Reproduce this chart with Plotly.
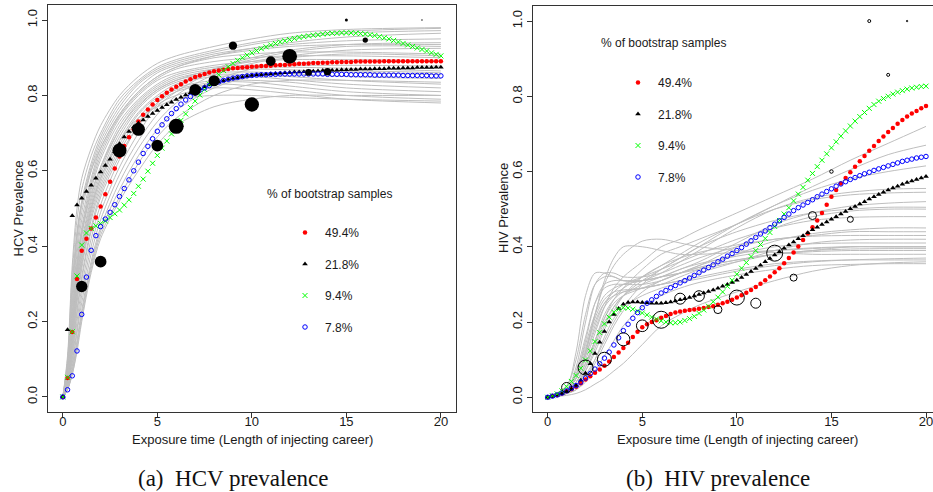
import numpy as np
import plotly.graph_objects as go

# ---------------------------------------------------------------
# Data
# ---------------------------------------------------------------
# Grid (years of injecting) on which the fitted prevalence curves are evaluated
career_years = np.arange(0, 20.001, 0.25)

legend_labels = ["49.4%", "21.8%", "9.4%", "7.8%"]

# HCV: fitted curves, grouped by share of bootstrap samples
hcv_fit_494 = [
    0.000, 0.050, 0.172, 0.313, 0.388, 0.420, 0.447, 0.476, 0.505, 0.538,
    0.571, 0.606, 0.638, 0.666, 0.689, 0.710, 0.731, 0.749, 0.763, 0.776,
    0.788, 0.798, 0.807, 0.816, 0.823, 0.830, 0.837, 0.843, 0.849, 0.853,
    0.857, 0.861, 0.864, 0.866, 0.868, 0.870, 0.872, 0.873, 0.874, 0.875,
    0.876, 0.877, 0.878, 0.878, 0.879, 0.880, 0.881, 0.881, 0.882, 0.883,
    0.884, 0.884, 0.885, 0.886, 0.886, 0.887, 0.887, 0.888, 0.888, 0.889,
    0.889, 0.889, 0.890, 0.890, 0.890, 0.890, 0.890, 0.890, 0.891, 0.891,
    0.891, 0.891, 0.891, 0.891, 0.891, 0.891, 0.891, 0.891, 0.891, 0.891,
    0.891,
]
hcv_fit_218 = [
    0.000, 0.178, 0.481, 0.509, 0.527, 0.545, 0.562, 0.580, 0.597, 0.614,
    0.631, 0.651, 0.672, 0.690, 0.704, 0.716, 0.726, 0.735, 0.744, 0.752,
    0.760, 0.768, 0.775, 0.782, 0.789, 0.795, 0.801, 0.807, 0.813, 0.818,
    0.823, 0.828, 0.832, 0.836, 0.839, 0.842, 0.845, 0.847, 0.849, 0.851,
    0.853, 0.854, 0.855, 0.856, 0.857, 0.858, 0.859, 0.860, 0.861, 0.862,
    0.862, 0.863, 0.864, 0.864, 0.865, 0.866, 0.866, 0.867, 0.867, 0.868,
    0.868, 0.869, 0.869, 0.870, 0.870, 0.870, 0.871, 0.871, 0.871, 0.872,
    0.872, 0.872, 0.873, 0.873, 0.873, 0.874, 0.874, 0.874, 0.874, 0.875,
    0.875,
]
hcv_fit_94 = [
    0.000, 0.052, 0.173, 0.321, 0.403, 0.435, 0.447, 0.454, 0.460, 0.467,
    0.476, 0.486, 0.496, 0.509, 0.523, 0.540, 0.559, 0.578, 0.599, 0.620,
    0.641, 0.660, 0.679, 0.698, 0.716, 0.734, 0.751, 0.768, 0.785, 0.801,
    0.816, 0.830, 0.843, 0.855, 0.866, 0.876, 0.885, 0.893, 0.900, 0.907,
    0.913, 0.919, 0.924, 0.929, 0.934, 0.938, 0.942, 0.945, 0.948, 0.951,
    0.954, 0.956, 0.958, 0.960, 0.961, 0.963, 0.964, 0.965, 0.965, 0.966,
    0.966, 0.966, 0.965, 0.964, 0.963, 0.961, 0.959, 0.956, 0.953, 0.950,
    0.946, 0.942, 0.938, 0.934, 0.930, 0.926, 0.922, 0.918, 0.913, 0.909,
    0.905,
]
hcv_fit_78 = [
    0.000, 0.019, 0.056, 0.122, 0.219, 0.318, 0.389, 0.428, 0.452, 0.472,
    0.490, 0.510, 0.532, 0.553, 0.576, 0.600, 0.623, 0.646, 0.665, 0.685,
    0.705, 0.722, 0.738, 0.752, 0.765, 0.777, 0.788, 0.797, 0.806, 0.814,
    0.820, 0.826, 0.832, 0.836, 0.840, 0.843, 0.846, 0.848, 0.850, 0.852,
    0.853, 0.854, 0.855, 0.855, 0.856, 0.856, 0.857, 0.857, 0.857, 0.857,
    0.857, 0.857, 0.857, 0.857, 0.857, 0.857, 0.856, 0.856, 0.856, 0.856,
    0.856, 0.855, 0.855, 0.855, 0.855, 0.855, 0.854, 0.854, 0.854, 0.854,
    0.854, 0.854, 0.853, 0.853, 0.853, 0.853, 0.853, 0.853, 0.852, 0.852,
    0.852,
]

# HCV: observed prevalence by length of injecting career, with sample sizes
hcv_obs_years = [1, 2, 3, 4, 5, 6, 7, 8, 9, 10, 11, 12, 13, 14, 15, 16, 19]
hcv_obs_prev = [0.293, 0.359, 0.654, 0.710, 0.667, 0.718, 0.815, 0.839, 0.932,
                0.776, 0.891, 0.904, 0.861, 0.863, 1.000, 0.947, 1.000]
hcv_obs_n = [128, 137, 196, 169, 137, 225, 137, 121, 69, 204, 94, 216, 45, 53,
             9, 28, 2]

# HCV: bootstrap fits, tabulated at these career lengths
hcv_boot_years = [0, 0.25, 0.5, 0.75, 1, 1.5, 2, 3, 4, 5, 6, 8, 10, 12, 15, 20]
hcv_boot = [
    [0, 0.10, 0.33, 0.47, 0.55, 0.64, 0.70, 0.79, 0.84, 0.875, 0.895, 0.92, 0.94, 0.955, 0.970, 0.978],
    [0, 0.09, 0.30, 0.44, 0.52, 0.62, 0.69, 0.78, 0.835, 0.87, 0.89, 0.915, 0.935, 0.95, 0.965, 0.972],
    [0, 0.08, 0.27, 0.42, 0.51, 0.61, 0.68, 0.77, 0.83, 0.865, 0.885, 0.91, 0.925, 0.935, 0.945, 0.950],
    [0, 0.08, 0.25, 0.40, 0.49, 0.60, 0.67, 0.76, 0.82, 0.86, 0.88, 0.905, 0.92, 0.93, 0.935, 0.935],
    [0, 0.07, 0.24, 0.38, 0.47, 0.58, 0.66, 0.75, 0.81, 0.85, 0.875, 0.90, 0.91, 0.915, 0.915, 0.910],
    [0, 0.07, 0.22, 0.36, 0.45, 0.57, 0.65, 0.745, 0.805, 0.845, 0.87, 0.89, 0.90, 0.905, 0.905, 0.900],
    [0, 0.06, 0.21, 0.35, 0.44, 0.56, 0.64, 0.74, 0.80, 0.84, 0.86, 0.88, 0.89, 0.895, 0.895, 0.892],
    [0, 0.06, 0.20, 0.33, 0.43, 0.55, 0.63, 0.73, 0.79, 0.83, 0.855, 0.875, 0.88, 0.88, 0.88, 0.878],
    [0, 0.05, 0.19, 0.32, 0.41, 0.53, 0.61, 0.72, 0.785, 0.825, 0.85, 0.87, 0.875, 0.875, 0.872, 0.865],
    [0, 0.05, 0.18, 0.31, 0.40, 0.52, 0.60, 0.71, 0.78, 0.82, 0.845, 0.865, 0.87, 0.868, 0.862, 0.855],
    [0, 0.05, 0.17, 0.30, 0.39, 0.51, 0.59, 0.70, 0.77, 0.815, 0.84, 0.86, 0.862, 0.858, 0.85, 0.845],
    [0, 0.04, 0.16, 0.28, 0.37, 0.50, 0.58, 0.69, 0.765, 0.81, 0.835, 0.855, 0.855, 0.85, 0.84, 0.830],
    [0, 0.04, 0.15, 0.27, 0.36, 0.49, 0.57, 0.68, 0.755, 0.80, 0.83, 0.85, 0.85, 0.842, 0.83, 0.820],
    [0, 0.04, 0.14, 0.26, 0.35, 0.48, 0.56, 0.67, 0.75, 0.795, 0.82, 0.84, 0.84, 0.835, 0.82, 0.810],
    [0, 0.03, 0.13, 0.25, 0.34, 0.47, 0.55, 0.66, 0.74, 0.79, 0.815, 0.835, 0.835, 0.825, 0.81, 0.800],
    [0, 0.03, 0.12, 0.23, 0.32, 0.45, 0.54, 0.65, 0.73, 0.78, 0.81, 0.83, 0.825, 0.815, 0.80, 0.790],
    [0, 0.03, 0.11, 0.22, 0.31, 0.44, 0.53, 0.64, 0.72, 0.775, 0.80, 0.82, 0.815, 0.805, 0.79, 0.780],
    [0, 0.03, 0.10, 0.20, 0.29, 0.42, 0.51, 0.63, 0.72, 0.78, 0.82, 0.87, 0.90, 0.92, 0.935, 0.940],
    [0, 0.02, 0.09, 0.18, 0.27, 0.40, 0.49, 0.61, 0.70, 0.77, 0.81, 0.865, 0.895, 0.915, 0.93, 0.930],
    [0, 0.02, 0.08, 0.17, 0.25, 0.38, 0.47, 0.59, 0.68, 0.75, 0.80, 0.855, 0.885, 0.90, 0.91, 0.905],
    [0, 0.02, 0.07, 0.15, 0.23, 0.36, 0.45, 0.57, 0.66, 0.73, 0.78, 0.84, 0.87, 0.885, 0.89, 0.890],
    [0, 0.02, 0.07, 0.14, 0.22, 0.35, 0.44, 0.55, 0.64, 0.71, 0.76, 0.82, 0.85, 0.86, 0.865, 0.860],
    [0, 0.02, 0.06, 0.13, 0.21, 0.34, 0.43, 0.53, 0.62, 0.69, 0.74, 0.80, 0.83, 0.84, 0.84, 0.835],
    [0, 0.02, 0.06, 0.12, 0.20, 0.33, 0.42, 0.52, 0.60, 0.67, 0.72, 0.77, 0.79, 0.80, 0.80, 0.800],
    [0, 0.05, 0.17, 0.29, 0.38, 0.50, 0.58, 0.68, 0.74, 0.77, 0.79, 0.80, 0.80, 0.795, 0.79, 0.785],
    [0, 0.11, 0.35, 0.50, 0.58, 0.66, 0.72, 0.80, 0.85, 0.885, 0.905, 0.93, 0.95, 0.965, 0.975, 0.980],
    [0, 0.09, 0.29, 0.43, 0.51, 0.60, 0.66, 0.75, 0.81, 0.85, 0.875, 0.905, 0.925, 0.94, 0.955, 0.965],
    [0, 0.06, 0.21, 0.34, 0.43, 0.54, 0.61, 0.71, 0.775, 0.815, 0.84, 0.87, 0.89, 0.905, 0.92, 0.925],
]

# HIV: fitted curves, grouped by share of bootstrap samples
hiv_fit_494 = [
    0.000, 0.003, 0.006, 0.010, 0.016, 0.021, 0.028, 0.037, 0.047, 0.056,
    0.065, 0.074, 0.084, 0.095, 0.107, 0.119, 0.131, 0.145, 0.160, 0.174,
    0.186, 0.194, 0.200, 0.205, 0.211, 0.216, 0.221, 0.225, 0.228, 0.230,
    0.232, 0.233, 0.235, 0.237, 0.240, 0.242, 0.246, 0.250, 0.254, 0.259,
    0.265, 0.271, 0.278, 0.285, 0.293, 0.302, 0.311, 0.321, 0.332, 0.343,
    0.356, 0.370, 0.385, 0.401, 0.418, 0.435, 0.452, 0.470, 0.490, 0.512,
    0.533, 0.551, 0.568, 0.583, 0.598, 0.613, 0.627, 0.641, 0.655, 0.668,
    0.681, 0.693, 0.705, 0.716, 0.727, 0.737, 0.746, 0.754, 0.761, 0.768,
    0.774,
]
hiv_fit_218 = [
    0.000, 0.002, 0.005, 0.009, 0.015, 0.022, 0.031, 0.045, 0.064, 0.089,
    0.116, 0.146, 0.175, 0.200, 0.220, 0.236, 0.247, 0.252, 0.253, 0.253,
    0.252, 0.251, 0.250, 0.250, 0.250, 0.251, 0.253, 0.256, 0.259, 0.262,
    0.265, 0.269, 0.273, 0.277, 0.281, 0.285, 0.290, 0.295, 0.300, 0.305,
    0.311, 0.318, 0.326, 0.334, 0.342, 0.351, 0.360, 0.369, 0.378, 0.387,
    0.396, 0.405, 0.413, 0.421, 0.429, 0.437, 0.445, 0.452, 0.459, 0.466,
    0.473, 0.480, 0.487, 0.494, 0.501, 0.507, 0.514, 0.520, 0.527, 0.533,
    0.539, 0.545, 0.551, 0.556, 0.561, 0.566, 0.571, 0.575, 0.579, 0.583,
    0.587,
]
hiv_fit_94 = [
    0.000, 0.004, 0.009, 0.017, 0.028, 0.042, 0.058, 0.077, 0.099, 0.123,
    0.148, 0.172, 0.195, 0.213, 0.226, 0.234, 0.238, 0.237, 0.234, 0.229,
    0.224, 0.219, 0.213, 0.208, 0.203, 0.200, 0.198, 0.198, 0.200, 0.204,
    0.209, 0.215, 0.223, 0.232, 0.242, 0.254, 0.266, 0.280, 0.295, 0.311,
    0.327, 0.343, 0.358, 0.374, 0.390, 0.406, 0.422, 0.438, 0.454, 0.470,
    0.487, 0.504, 0.522, 0.540, 0.558, 0.577, 0.595, 0.613, 0.630, 0.647,
    0.663, 0.679, 0.694, 0.708, 0.721, 0.734, 0.746, 0.757, 0.768, 0.778,
    0.787, 0.794, 0.800, 0.806, 0.811, 0.815, 0.819, 0.822, 0.824, 0.826,
    0.827,
]
hiv_fit_78 = [
    0.000, 0.003, 0.006, 0.011, 0.017, 0.024, 0.031, 0.040, 0.051, 0.063,
    0.075, 0.089, 0.104, 0.120, 0.139, 0.158, 0.177, 0.194, 0.210, 0.225,
    0.238, 0.250, 0.259, 0.268, 0.277, 0.284, 0.291, 0.297, 0.304, 0.310,
    0.317, 0.324, 0.331, 0.338, 0.345, 0.352, 0.360, 0.367, 0.375, 0.382,
    0.390, 0.398, 0.407, 0.416, 0.425, 0.434, 0.442, 0.451, 0.460, 0.469,
    0.478, 0.487, 0.496, 0.504, 0.511, 0.518, 0.525, 0.533, 0.540, 0.547,
    0.554, 0.561, 0.567, 0.573, 0.579, 0.584, 0.589, 0.594, 0.598, 0.603,
    0.607, 0.611, 0.615, 0.619, 0.623, 0.627, 0.630, 0.633, 0.636, 0.638,
    0.640,
]

# HIV: observed prevalence by length of injecting career, with sample sizes
hiv_obs_years = [1, 2, 3, 4, 5, 6, 7, 8, 9, 10, 11, 12, 13, 14, 15, 16, 17, 18, 19]
hiv_obs_prev = [0.026, 0.079, 0.101, 0.154, 0.190, 0.206, 0.262, 0.269, 0.233,
                0.265, 0.250, 0.383, 0.318, 0.483, 0.600, 0.473, 1.000, 0.857,
                1.000]
hiv_obs_n = [100, 225, 196, 169, 137, 289, 121, 114, 64, 225, 100, 256, 49, 64,
             12, 36, 9, 9, 2]

# HIV: bootstrap fits, tabulated at these career lengths
hiv_boot_years = [0, 1, 1.5, 2, 2.5, 3, 3.5, 4, 5, 6, 7, 8, 10, 12, 14, 16, 18, 20]
hiv_boot = [
    [0, 0.03, 0.12, 0.27, 0.33, 0.33, 0.32, 0.31, 0.31, 0.32, 0.33, 0.34, 0.36, 0.38, 0.39, 0.40, 0.40, 0.40],
    [0, 0.02, 0.08, 0.20, 0.30, 0.33, 0.33, 0.32, 0.32, 0.33, 0.35, 0.37, 0.40, 0.42, 0.43, 0.44, 0.44, 0.44],
    [0, 0.02, 0.05, 0.12, 0.22, 0.30, 0.35, 0.38, 0.415, 0.42, 0.41, 0.40, 0.39, 0.385, 0.38, 0.38, 0.38, 0.38],
    [0, 0.02, 0.05, 0.10, 0.17, 0.24, 0.29, 0.32, 0.36, 0.40, 0.42, 0.445, 0.49, 0.535, 0.58, 0.63, 0.675, 0.72],
    [0, 0.02, 0.04, 0.09, 0.15, 0.21, 0.26, 0.29, 0.34, 0.38, 0.40, 0.42, 0.46, 0.51, 0.56, 0.605, 0.645, 0.67],
    [0, 0.015, 0.04, 0.08, 0.14, 0.20, 0.24, 0.27, 0.31, 0.34, 0.37, 0.40, 0.46, 0.51, 0.55, 0.58, 0.60, 0.615],
    [0, 0.02, 0.06, 0.14, 0.22, 0.27, 0.29, 0.30, 0.31, 0.33, 0.36, 0.39, 0.45, 0.50, 0.53, 0.545, 0.553, 0.555],
    [0, 0.02, 0.05, 0.11, 0.18, 0.24, 0.27, 0.29, 0.32, 0.35, 0.38, 0.41, 0.46, 0.50, 0.525, 0.538, 0.543, 0.545],
    [0, 0.02, 0.07, 0.16, 0.25, 0.29, 0.30, 0.30, 0.30, 0.31, 0.33, 0.35, 0.40, 0.45, 0.48, 0.495, 0.50, 0.50],
    [0, 0.01, 0.03, 0.06, 0.10, 0.15, 0.20, 0.24, 0.30, 0.34, 0.37, 0.40, 0.44, 0.47, 0.49, 0.50, 0.505, 0.505],
    [0, 0.02, 0.06, 0.13, 0.21, 0.26, 0.28, 0.285, 0.29, 0.30, 0.32, 0.34, 0.38, 0.415, 0.435, 0.445, 0.45, 0.45],
    [0, 0.01, 0.03, 0.07, 0.12, 0.18, 0.23, 0.27, 0.32, 0.35, 0.37, 0.385, 0.405, 0.42, 0.428, 0.43, 0.43, 0.43],
    [0, 0.02, 0.05, 0.12, 0.20, 0.25, 0.27, 0.28, 0.29, 0.30, 0.31, 0.33, 0.36, 0.39, 0.41, 0.418, 0.42, 0.42],
    [0, 0.015, 0.04, 0.09, 0.15, 0.21, 0.25, 0.27, 0.29, 0.31, 0.33, 0.35, 0.38, 0.40, 0.408, 0.41, 0.41, 0.41],
    [0, 0.01, 0.03, 0.07, 0.13, 0.19, 0.24, 0.27, 0.30, 0.32, 0.34, 0.355, 0.375, 0.39, 0.397, 0.40, 0.40, 0.40],
    [0, 0.02, 0.06, 0.15, 0.25, 0.30, 0.31, 0.31, 0.31, 0.32, 0.33, 0.345, 0.365, 0.38, 0.39, 0.394, 0.395, 0.395],
    [0, 0.01, 0.02, 0.05, 0.09, 0.14, 0.19, 0.23, 0.28, 0.31, 0.33, 0.345, 0.365, 0.38, 0.387, 0.39, 0.39, 0.39],
    [0, 0.01, 0.03, 0.08, 0.15, 0.22, 0.26, 0.28, 0.29, 0.30, 0.31, 0.32, 0.34, 0.355, 0.362, 0.365, 0.365, 0.365],
    [0, 0.005, 0.01, 0.02, 0.035, 0.05, 0.07, 0.09, 0.14, 0.19, 0.22, 0.245, 0.28, 0.31, 0.335, 0.35, 0.357, 0.36],
    [0, 0.01, 0.02, 0.04, 0.07, 0.11, 0.15, 0.19, 0.24, 0.27, 0.29, 0.305, 0.325, 0.34, 0.35, 0.353, 0.355, 0.355],
    [0, 0.02, 0.05, 0.11, 0.19, 0.25, 0.28, 0.30, 0.32, 0.34, 0.36, 0.38, 0.42, 0.45, 0.47, 0.478, 0.48, 0.48],
    [0, 0.03, 0.10, 0.22, 0.30, 0.32, 0.32, 0.31, 0.31, 0.32, 0.34, 0.36, 0.41, 0.46, 0.49, 0.508, 0.516, 0.52],
    [0, 0.02, 0.05, 0.12, 0.22, 0.31, 0.37, 0.40, 0.40, 0.39, 0.38, 0.38, 0.385, 0.39, 0.395, 0.40, 0.40, 0.40],
    [0, 0.01, 0.02, 0.05, 0.10, 0.16, 0.21, 0.24, 0.27, 0.29, 0.305, 0.315, 0.335, 0.35, 0.36, 0.365, 0.368, 0.37],
]

# ---------------------------------------------------------------
# Styling
# ---------------------------------------------------------------
W, H = 933, 492
SANS = "Liberation Sans, Arial, sans-serif"
SERIF = "Liberation Serif, Times New Roman, serif"
AXIS_COL = "#333333"
GREY = "#BEBEBE"
TEXT_COL = "#1a1a1a"

series_styles = [
    dict(symbol="circle", size=4.5, color="#FF0000", opacity=1,
         line=dict(width=0)),
    dict(symbol="triangle-up", size=5, color="#000000", opacity=1,
         line=dict(width=0)),
    dict(symbol="x-thin-open", size=5, color="#00FF00", opacity=1,
         line=dict(width=1, color="#00FF00")),
    dict(symbol="circle-open", size=4.5, color="#0000FF", opacity=1,
         line=dict(width=1, color="#0000FF")),
]


def px_x(p):
    return p / W


def px_y(p):
    return 1 - p / H


fig = go.Figure()

panels = [
    dict(xa="x", ya="y", legend="legend",
         boot_x=hcv_boot_years, boot=hcv_boot,
         fits=[hcv_fit_494, hcv_fit_218, hcv_fit_94, hcv_fit_78],
         obs_x=hcv_obs_years, obs_y=hcv_obs_prev, obs_n=hcv_obs_n,
         obs_marker=dict(symbol="circle", color="#000000", opacity=1,
                         line=dict(width=0))),
    dict(xa="x2", ya="y2", legend="legend2",
         boot_x=hiv_boot_years, boot=hiv_boot,
         fits=[hiv_fit_494, hiv_fit_218, hiv_fit_94, hiv_fit_78],
         obs_x=hiv_obs_years, obs_y=hiv_obs_prev, obs_n=hiv_obs_n,
         obs_marker=dict(symbol="circle-open", color="#000000", opacity=1,
                         line=dict(width=1, color="#000000"))),
]

for pnl in panels:
    # bootstrap fits as thin grey lines
    for curve in pnl["boot"]:
        fig.add_trace(go.Scatter(
            x=pnl["boot_x"], y=curve, mode="lines",
            line=dict(color=GREY, width=1, shape="spline", smoothing=0.9),
            xaxis=pnl["xa"], yaxis=pnl["ya"], showlegend=False,
            hoverinfo="skip"))
    # the four most frequent fitted curves
    for label, vals, sty in zip(legend_labels, pnl["fits"], series_styles):
        fig.add_trace(go.Scatter(
            x=career_years, y=vals, mode="markers", name=label,
            marker=sty, xaxis=pnl["xa"], yaxis=pnl["ya"],
            legend=pnl["legend"], legendgroup=pnl["legend"] + label))
    # observed prevalence, symbol size scaled by sample size
    sizes = [np.sqrt(n) for n in pnl["obs_n"]]
    fig.add_trace(go.Scatter(
        x=pnl["obs_x"], y=pnl["obs_y"], mode="markers",
        marker=dict(size=sizes, **pnl["obs_marker"]),
        xaxis=pnl["xa"], yaxis=pnl["ya"], showlegend=False))

axis_common = dict(
    showgrid=False, zeroline=False, showline=True, linecolor=AXIS_COL,
    linewidth=1, ticks="outside", ticklen=5, tickwidth=1, tickcolor=AXIS_COL,
    tickfont=dict(family=SANS, size=13, color=TEXT_COL),
    ticklabeloverflow="allow",
)
x_common = dict(tickvals=[0, 5, 10, 15, 20], ticklabelstandoff=-8,
                **axis_common)
y_common = dict(tickvals=[0, 0.2, 0.4, 0.6, 0.8, 1.0], tickformat=".1f",
                tickangle=-90, range=[-0.04, 1.04], **axis_common)

legend_common = dict(
    font=dict(family=SANS, size=12, color=TEXT_COL),
    bgcolor="rgba(0,0,0,0)", borderwidth=0, tracegroupgap=12.5,
    itemsizing="trace", xanchor="left", yanchor="top",
)

fig.update_layout(
    width=W, height=H,
    margin=dict(l=0, r=0, t=0, b=0),
    paper_bgcolor="white", plot_bgcolor="white",
    showlegend=True,
    xaxis=dict(domain=[px_x(47.7), px_x(456)], range=[-0.8, 20.8],
               mirror=True, anchor="y", **x_common),
    yaxis=dict(domain=[px_y(412), px_y(5)], mirror=True, anchor="x",
               **y_common),
    xaxis2=dict(domain=[px_x(532.7), 1.0], range=[-0.793, 20.37],
                mirror=True, anchor="y2", **x_common),
    yaxis2=dict(domain=[px_y(412.3), px_y(6)], mirror=False, anchor="x2",
                **y_common),
    legend=dict(x=px_x(285), y=px_y(218), **legend_common),
    legend2=dict(x=px_x(618), y=px_y(68), **legend_common),
)

annotations = [
    # axis titles
    dict(text="Exposure time (Length of injecting career)", x=px_x(252),
         y=px_y(439)),
    dict(text="Exposure time (Length of injecting career)", x=px_x(737),
         y=px_y(439)),
    dict(text="HCV Prevalence", x=px_x(18), y=px_y(208.5), textangle=-90),
    dict(text="HIV Prevalence", x=px_x(503.5), y=px_y(208.5), textangle=-90),
    # legend headings
    dict(text="% of bootstrap samples", x=px_x(329.5), y=px_y(194.3),
         font=dict(family=SANS, size=12, color=TEXT_COL)),
    dict(text="% of bootstrap samples", x=px_x(663.8), y=px_y(43.3),
         font=dict(family=SANS, size=12, color=TEXT_COL)),
    # panel captions
    dict(text="(a)\u00a0 HCV prevalence", x=px_x(233.3), y=px_y(478.3),
         font=dict(family=SERIF, size=23, color="#111111")),
    dict(text="(b)\u00a0 HIV prevalence", x=px_x(718.3), y=px_y(478.3),
         font=dict(family=SERIF, size=23, color="#111111")),
]
for a in annotations:
    a.setdefault("font", dict(family=SANS, size=13, color=TEXT_COL))
    a.update(xref="paper", yref="paper", showarrow=False,
             xanchor="center", yanchor="middle")
fig.update_layout(annotations=annotations)

fig.write_html("out.html")
